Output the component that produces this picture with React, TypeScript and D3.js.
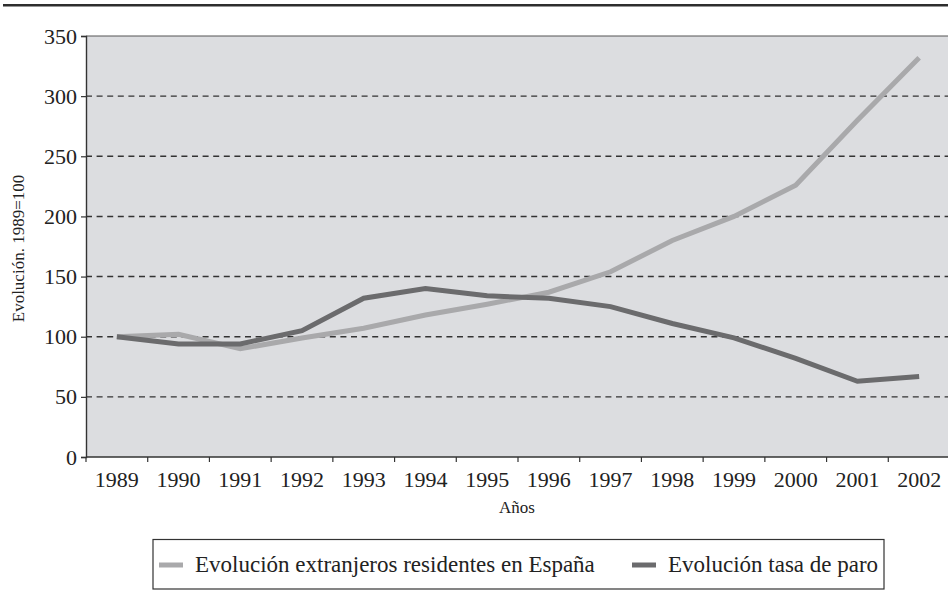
import { useEffect, useRef } from 'react';
import * as d3 from 'd3';

// Data
const years = ['1989', '1990', '1991', '1992', '1993', '1994', '1995', '1996', '1997', '1998', '1999', '2000', '2001', '2002'];
const extranjeros = [100, 102, 90, 99, 107, 118, 127, 137, 154, 180, 200, 226, 280, 332];
const tasaParo = [100, 94, 94, 105, 132, 140, 134, 132, 125, 111, 99, 82, 63, 67];
const yTicks = [0, 50, 100, 150, 200, 250, 300, 350];

const series = [
  { name: 'Evolución extranjeros residentes en España', values: extranjeros, color: '#a9a9ab' },
  { name: 'Evolución tasa de paro', values: tasaParo, color: '#6b6b6d' },
];

export default function App() {
  const svgRef = useRef<SVGSVGElement>(null);

  useEffect(() => {
    if (!svgRef.current) return;
    const width = 948;
    const plot = { left: 86, right: 950, top: 36, bottom: 457 };
    const font = '"Liberation Serif", "DejaVu Serif", serif';

    const svg = d3.select(svgRef.current);
    svg.selectAll('*').remove();

    const x = d3.scaleBand().domain(years).range([plot.left, plot.right]).paddingInner(0).paddingOuter(0);
    const y = d3.scaleLinear().domain([0, 350]).range([plot.bottom, plot.top]);

    // top rule
    svg.append('line')
      .attr('x1', 3).attr('x2', width).attr('y1', 5.2).attr('y2', 5.2)
      .attr('stroke', '#2e2e2e').attr('stroke-width', 2.6);

    // plot background
    svg.append('rect')
      .attr('x', plot.left).attr('y', plot.top)
      .attr('width', plot.right - plot.left).attr('height', plot.bottom - plot.top)
      .attr('fill', '#dcdde0');

    // dashed gridlines
    svg.append('g').selectAll('line')
      .data(yTicks.filter(d => d > 0 && d < 350))
      .enter().append('line')
      .attr('x1', plot.left).attr('x2', plot.right)
      .attr('y1', d => y(d)).attr('y2', d => y(d))
      .attr('stroke', '#333').attr('stroke-width', 1.4)
      .attr('stroke-dasharray', '6,4.6');

    // top border of plot
    svg.append('line')
      .attr('x1', plot.left).attr('x2', plot.right).attr('y1', y(350)).attr('y2', y(350))
      .attr('stroke', '#555').attr('stroke-width', 1);

    // y axis
    const yAxis = svg.append('g').attr('transform', `translate(${plot.left},0)`)
      .call(d3.axisLeft(y).tickValues(yTicks).tickSize(5).tickPadding(4));
    yAxis.select('.domain').attr('stroke', '#333').attr('stroke-width', 1.4);
    yAxis.selectAll('.tick line').attr('stroke', '#333').attr('stroke-width', 1.2);
    yAxis.selectAll('.tick text')
      .attr('font-family', font).attr('font-size', 22).attr('fill', '#222');

    // x axis: ticks between categories
    const xAxisG = svg.append('g');
    xAxisG.append('line')
      .attr('x1', plot.left).attr('x2', plot.right).attr('y1', plot.bottom).attr('y2', plot.bottom)
      .attr('stroke', '#333').attr('stroke-width', 1.4);
    xAxisG.selectAll('line.tk')
      .data(years)
      .enter().append('line')
      .attr('class', 'tk')
      .attr('x1', d => x(d)!).attr('x2', d => x(d)!)
      .attr('y1', plot.bottom).attr('y2', plot.bottom + 5)
      .attr('stroke', '#333').attr('stroke-width', 1.2);
    xAxisG.selectAll('text')
      .data(years)
      .enter().append('text')
      .attr('x', d => x(d)! + x.bandwidth() / 2)
      .attr('y', 487)
      .attr('text-anchor', 'middle')
      .attr('font-family', font).attr('font-size', 22).attr('fill', '#222')
      .text(d => d);

    // axis titles
    svg.append('text')
      .attr('x', (plot.left + 948) / 2).attr('y', 513)
      .attr('text-anchor', 'middle')
      .attr('font-family', font).attr('font-size', 17).attr('fill', '#222')
      .text('Años');
    svg.append('text')
      .attr('transform', `translate(24,${(plot.top + plot.bottom) / 2 + 2}) rotate(-90)`)
      .attr('text-anchor', 'middle')
      .attr('font-family', font).attr('font-size', 17).attr('fill', '#222')
      .text('Evolución. 1989=100');

    // lines
    const line = d3.line<number>()
      .x((_, i) => x(years[i])! + x.bandwidth() / 2)
      .y(d => y(d));
    svg.append('g').selectAll('path')
      .data(series)
      .enter().append('path')
      .attr('d', d => line(d.values))
      .attr('fill', 'none')
      .attr('stroke', d => d.color)
      .attr('stroke-width', 5)
      .attr('stroke-linejoin', 'miter');

    // legend
    const legend = svg.append('g');
    legend.append('rect')
      .attr('x', 153).attr('y', 539.5).attr('width', 731).attr('height', 49.5)
      .attr('fill', 'white').attr('stroke', '#333').attr('stroke-width', 1.2);
    const legendX = [159, 632];
    series.forEach((s, i) => {
      legend.append('line')
        .attr('x1', legendX[i]).attr('x2', legendX[i] + 24)
        .attr('y1', 565).attr('y2', 565)
        .attr('stroke', s.color).attr('stroke-width', 5);
      legend.append('text')
        .attr('x', legendX[i] + 36).attr('y', 572)
        .attr('font-family', font).attr('font-size', 23).attr('fill', '#222')
        .text(s.name);
    });
  }, []);

  return (
    <svg
      ref={svgRef}
      width={948}
      height={603}
      style={{ position: 'absolute', left: 0, top: 0, background: 'white' }}
    />
  );
}
